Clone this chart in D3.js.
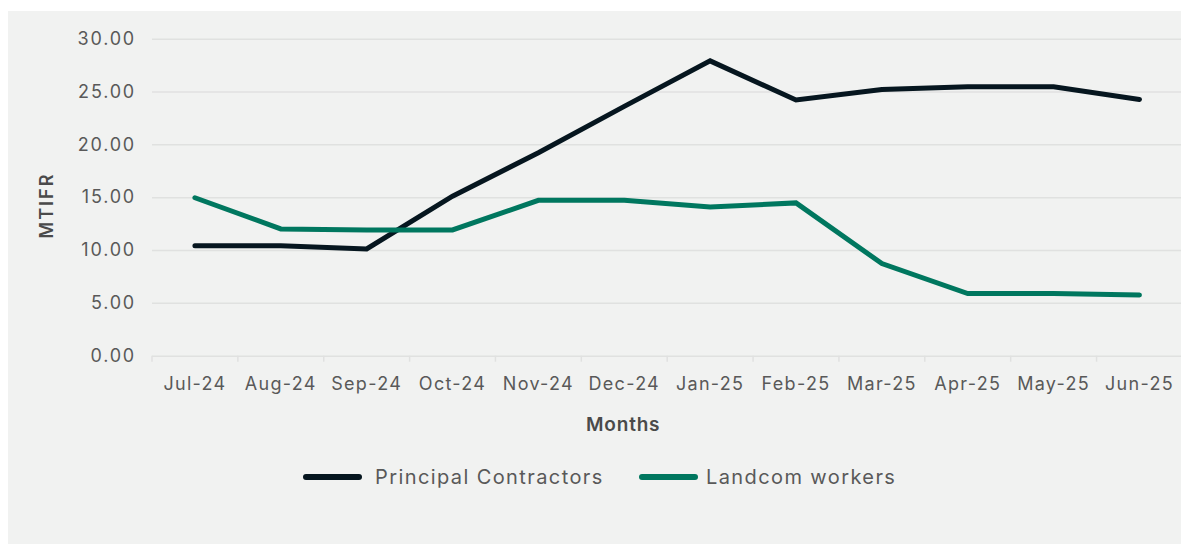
<!DOCTYPE html>
<html>
<head>
<meta charset="utf-8">
<script src="https://cdn.jsdelivr.net/npm/d3@7"></script>
<style>
  html, body { margin: 0; padding: 0; background: #ffffff; }
  svg { display: block; }
  text { font-family: "Inter", "Lato", sans-serif; }
</style>
</head>
<body>
<svg id="chart" width="1181" height="544"></svg>
<script>
// Monthly MTIFR by worker group
const months = ["Jul-24", "Aug-24", "Sep-24", "Oct-24", "Nov-24", "Dec-24",
                "Jan-25", "Feb-25", "Mar-25", "Apr-25", "May-25", "Jun-25"];
const principalContractors = [10.4, 10.4, 10.1, 15.1, 19.2, 23.6, 27.9, 24.2, 25.2, 25.45, 25.45, 24.25];
const landcomWorkers = [14.95, 12.0, 11.9, 11.9, 14.7, 14.7, 14.08, 14.46, 8.72, 5.88, 5.88, 5.74];
const yTicks = [0, 5, 10, 15, 20, 25, 30];
const seriesNames = ["Principal Contractors", "Landcom workers"];
const seriesColors = ["#06161f", "#00775f"];

const svg = d3.select("#chart");
const W = 1181, H = 544;

// panel background
svg.append("rect")
  .attr("x", 8).attr("y", 11)
  .attr("width", W - 8).attr("height", H - 11)
  .attr("fill", "#f1f2f1");

const plotLeft = 152, plotRight = 1182.4, plotTop = 38.7, plotBottom = 355.7;

const x = d3.scaleBand().domain(months).range([plotLeft, plotRight]).paddingInner(0).paddingOuter(0);
const y = d3.scaleLinear().domain([0, 30]).range([plotBottom, plotTop]);
const cx = d => x(d) + x.bandwidth() / 2;

// horizontal gridlines + y tick labels
const yAxis = d3.axisLeft(y)
  .tickValues(yTicks)
  .tickFormat(d3.format(".2f"))
  .tickSizeInner(-(W - plotLeft))
  .tickSizeOuter(0)
  .tickPadding(16);

const gy = svg.append("g")
  .attr("transform", `translate(${plotLeft},0)`)
  .call(yAxis);
gy.select(".domain").remove();
gy.selectAll(".tick line")
  .attr("stroke", "#e0e1e0")
  .attr("stroke-width", 1.5);
gy.selectAll(".tick text")
  .attr("fill", "#595959")
  .attr("font-size", 18)
  .attr("letter-spacing", "1.8px")
  .attr("font-family", "Inter, Lato, sans-serif");

// x axis: category boundary ticks and month labels
const xAxis = d3.axisBottom(x)
  .tickSize(0)
  .tickPadding(22);
const gx = svg.append("g")
  .attr("transform", `translate(0,${plotBottom})`)
  .call(xAxis);
gx.select(".domain").remove();
gx.selectAll(".tick text")
  .attr("fill", "#595959")
  .attr("font-size", 18)
  .attr("letter-spacing", "1.3px")
  .attr("font-family", "Inter, Lato, sans-serif");

svg.append("g")
  .selectAll("line")
  .data(months)
  .join("line")
  .attr("x1", d => x(d)).attr("x2", d => x(d))
  .attr("y1", plotBottom).attr("y2", plotBottom + 6)
  .attr("stroke", "#e0e1e0")
  .attr("stroke-width", 1.5);

// axis titles
svg.append("text")
  .attr("x", (plotLeft + plotRight) / 2 - 44)
  .attr("y", 431)
  .attr("text-anchor", "middle")
  .attr("font-size", 19)
  .attr("font-weight", 600)
  .attr("letter-spacing", "0.8px")
  .attr("fill", "#4a4a4a")
  .text("Months");

svg.append("text")
  .attr("transform", "translate(53,205.5) rotate(-90)")
  .attr("text-anchor", "middle")
  .attr("font-size", 18)
  .attr("font-weight", 600)
  .attr("letter-spacing", "2px")
  .attr("fill", "#4a4a4a")
  .text("MTIFR");

// series lines
const line = d3.line()
  .x((d, i) => cx(months[i]))
  .y(d => y(d));

[principalContractors, landcomWorkers].forEach((vals, k) => {
  svg.append("path")
    .datum(vals)
    .attr("d", line)
    .attr("fill", "none")
    .attr("stroke", seriesColors[k])
    .attr("stroke-width", 5)
    .attr("stroke-linecap", "round")
    .attr("stroke-linejoin", "miter");
});

// legend
const legendItems = [
  { name: seriesNames[0], color: seriesColors[0], x1: 306, x2: 359, tx: 375 },
  { name: seriesNames[1], color: seriesColors[1], x1: 642, x2: 695, tx: 706 }
];
const lg = svg.append("g");
legendItems.forEach(it => {
  lg.append("line")
    .attr("x1", it.x1).attr("x2", it.x2)
    .attr("y1", 477).attr("y2", 477)
    .attr("stroke", it.color)
    .attr("stroke-width", 6)
    .attr("stroke-linecap", "round");
  lg.append("text")
    .attr("x", it.tx).attr("y", 484)
    .attr("font-size", 20)
    .attr("letter-spacing", "1.4px")
    .attr("fill", "#595959")
    .text(it.name);
});
</script>
</body>
</html>
